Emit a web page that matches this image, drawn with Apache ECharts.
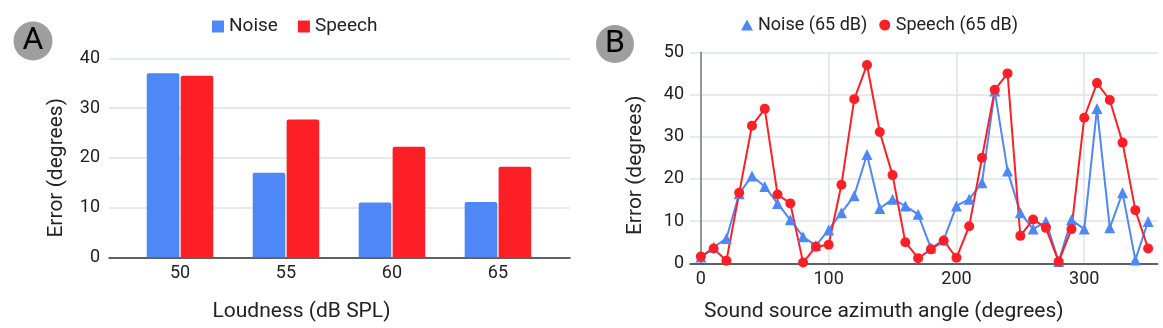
<!DOCTYPE html>
<html>
<head>
<meta charset="utf-8">
<script src="https://cdn.jsdelivr.net/npm/echarts@6/dist/echarts.min.js"></script>
<style>
html,body{margin:0;padding:0;background:#fff;}
#c{width:1163px;height:328px;}
</style>
</head>
<body>
<div id="c"></div>
<script>
// Panel A data
const loudness = [50, 55, 60, 65];
const noiseByLoudness = [37.0, 17.0, 11.0, 11.1];
const speechByLoudness = [36.5, 27.7, 22.2, 18.2];

// Panel B data
const azimuth = [0,10,20,30,40,50,60,70,80,90,100,110,120,130,140,150,160,170,180,190,200,210,220,230,240,250,260,270,280,290,300,310,320,330,340,350];
const noise65 = [1.5,3.8,5.9,16.5,20.7,18.2,14.2,10.3,6.3,4.2,7.9,12.0,16.0,25.8,13.0,15.2,13.6,11.6,3.6,5.5,13.6,15.2,19.1,40.8,21.9,12.0,8.1,9.9,0.4,10.3,8.1,36.7,8.4,16.7,0.8,9.9];
const speech65 = [1.6,3.5,0.6,16.7,32.6,36.6,16.3,14.2,0.2,3.9,4.4,18.6,38.9,47.0,31.1,20.9,5.0,1.2,3.3,5.4,1.3,8.8,25.0,41.1,45.0,6.5,10.4,8.4,0.4,8.1,34.5,42.7,38.7,28.6,12.6,3.5];
const xTicksB = [0, 100, 200, 300];

const BLUE = '#4e88f7';
const RED = '#fd1f26';
const GRID = '#dce3e3';
const FONT = 'Roboto';

const chart = echarts.init(document.getElementById('c'), null, {renderer: 'canvas'});

const option = {
  animation: false,
  backgroundColor: '#fff',
  textStyle: {fontFamily: FONT, color: '#222'},
  legend: [
    {
      left: 207, top: 12,
      itemWidth: 12, itemHeight: 12, itemGap: 20,
      textStyle: {fontFamily: FONT, fontSize: 19, color: '#222'},
      data: [{name: 'Noise', icon: 'rect'}, {name: 'Speech', icon: 'rect'}]
    },
    {
      left: 736, top: 11,
      itemWidth: 12, itemHeight: 11, itemGap: 12,
      textStyle: {fontFamily: FONT, fontSize: 18, color: '#222'},
      data: [{name: 'Noise (65 dB)', icon: 'triangle'}, {name: 'Speech (65 dB)', icon: 'circle'}]
    }
  ],
  grid: [
    {left: 109, right: 593, top: 58.3, bottom: 70.7},
    {left: 690, right: 5.3, top: 52.3, bottom: 64.7}
  ],
  xAxis: [
    {
      gridIndex: 0, type: 'value', min: 46.65, max: 68.4,
      name: 'Loudness (dB SPL)', nameLocation: 'middle', nameGap: 44,
      nameTextStyle: {fontFamily: FONT, fontSize: 21, color: '#222', padding: [0, 76, 0, 0]},
      axisLine: {show: true, lineStyle: {color: '#333', width: 1.5}},
      axisTick: {show: false},
      axisLabel: {customValues: loudness, fontFamily: FONT, fontSize: 18, color: '#222', margin: 7},
      splitLine: {show: false}
    },
    {
      gridIndex: 1, type: 'value', min: -8.5, max: 357.5,
      name: 'Sound source azimuth angle (degrees)', nameLocation: 'middle', nameGap: 38,
      nameTextStyle: {fontFamily: FONT, fontSize: 21, color: '#222', padding: [0, 80, 0, 0]},
      axisLine: {show: true, onZero: false, lineStyle: {color: '#333', width: 1.5}},
      axisTick: {show: false, customValues: xTicksB},
      axisLabel: {customValues: xTicksB, fontFamily: FONT, fontSize: 18, color: '#222', margin: 7},
      splitLine: {show: true, lineStyle: {color: GRID, width: 1.5}}
    }
  ],
  yAxis: [
    {
      gridIndex: 0, type: 'value', min: 0, max: 40, interval: 10,
      name: 'Error (degrees)', nameLocation: 'middle', nameGap: 42,
      nameTextStyle: {fontFamily: FONT, fontSize: 21, color: '#222', padding: [0, 20, 0, 0]},
      axisLine: {show: false},
      axisTick: {show: false},
      axisLabel: {fontFamily: FONT, fontSize: 18, color: '#222', margin: 9},
      splitLine: {show: true, lineStyle: {color: GRID, width: 1.5}}
    },
    {
      gridIndex: 1, type: 'value', min: 0, max: 50, interval: 10,
      name: 'Error (degrees)', nameLocation: 'middle', nameGap: 44,
      nameTextStyle: {fontFamily: FONT, fontSize: 21, color: '#222', padding: [0, 15, 0, 0]},
      axisLine: {show: true, onZero: true, lineStyle: {color: '#7a7a7a', width: 1.5}},
      axisTick: {show: false},
      axisLabel: {fontFamily: FONT, fontSize: 18, color: '#222', margin: 6},
      splitLine: {show: true, lineStyle: {color: GRID, width: 1.5}}
    }
  ],
  series: [
    {
      name: 'Noise', type: 'bar', xAxisIndex: 0, yAxisIndex: 0,
      barWidth: 32.6, barGap: '4%',
      itemStyle: {color: BLUE, borderRadius: [2, 2, 0, 0]},
      data: loudness.map((l, i) => [l, noiseByLoudness[i]])
    },
    {
      name: 'Speech', type: 'bar', xAxisIndex: 0, yAxisIndex: 0,
      barWidth: 32.6, barGap: '4%',
      itemStyle: {color: RED, borderRadius: [2, 2, 0, 0]},
      data: loudness.map((l, i) => [l, speechByLoudness[i]])
    },
    {
      name: 'Noise (65 dB)', type: 'line', xAxisIndex: 1, yAxisIndex: 1,
      symbol: 'triangle', symbolSize: 11,
      lineStyle: {color: BLUE, width: 2},
      itemStyle: {color: BLUE},
      data: azimuth.map((a, i) => [a, noise65[i]])
    },
    {
      name: 'Speech (65 dB)', type: 'line', xAxisIndex: 1, yAxisIndex: 1,
      symbol: 'circle', symbolSize: 10,
      lineStyle: {color: RED, width: 2},
      itemStyle: {color: RED},
      data: azimuth.map((a, i) => [a, speech65[i]])
    }
  ],
  graphic: [
    {type: 'circle', shape: {cx: 33, cy: 41, r: 19.5}, style: {fill: '#9e9e9e'}},
    {type: 'text', x: 33, y: 41, style: {text: 'A', fontFamily: FONT, fontSize: 32, fill: '#000', align: 'center', verticalAlign: 'middle'}},
    {type: 'circle', shape: {cx: 615, cy: 44, r: 19}, style: {fill: '#9e9e9e'}},
    {type: 'text', x: 615, y: 44, style: {text: 'B', fontFamily: FONT, fontSize: 32, fill: '#000', align: 'center', verticalAlign: 'middle'}}
  ]
};

chart.setOption(option);
</script>
</body>
</html>
